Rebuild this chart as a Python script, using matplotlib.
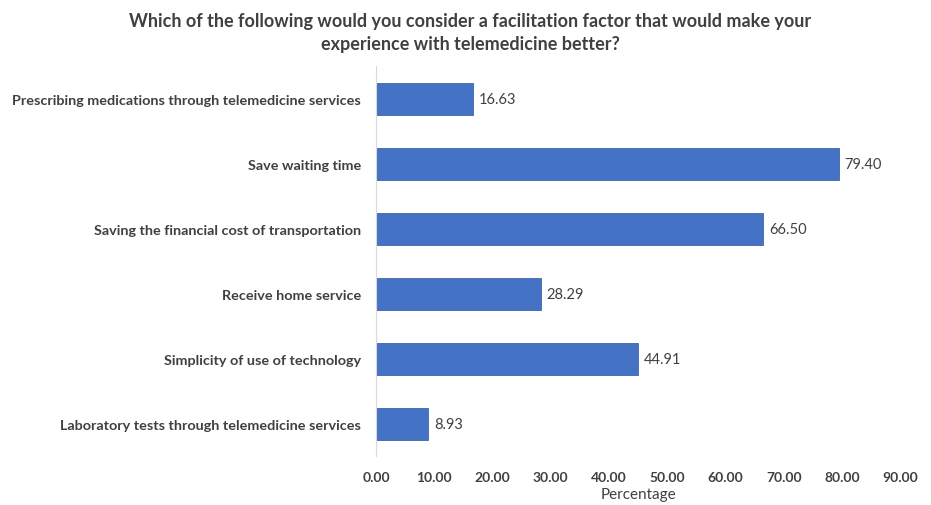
import matplotlib.pyplot as plt

categories = [
    "Prescribing medications through telemedicine services",
    "Save waiting time",
    "Saving the financial cost of transportation",
    "Receive home service",
    "Simplicity of use of technology",
    "Laboratory tests through telemedicine services",
]
values = [16.63, 79.40, 66.50, 28.29, 44.91, 8.93]
xticks = [0, 10, 20, 30, 40, 50, 60, 70, 80, 90]

plt.rcParams['font.family'] = ['Lato', 'DejaVu Sans']
text_col = '#404040'

fig = plt.figure(figsize=(9.31, 5.06), dpi=100)
ax = fig.add_axes([0.404, 0.096, 0.563, 0.771])

ypos = list(range(len(categories)))
ax.barh(ypos, values, height=0.5, color='#4472C4', edgecolor='#2F5597', linewidth=0.5)
for y, v in zip(ypos, values):
    ax.text(v + 1.0, y, f"{v:.2f}", va='center', ha='left', fontsize=10.5, color=text_col)

ax.set_ylim(len(categories) - 0.5, -0.5)
ax.set_xlim(0, 90)
ax.set_yticks(ypos)
ax.set_yticklabels(categories, fontsize=10.4, fontweight='bold', color=text_col)
ax.set_xticks(xticks)
ax.set_xticklabels([f"{t:.2f}" for t in xticks], fontsize=10, fontweight='bold', color=text_col)
ax.tick_params(axis='y', length=0, pad=11)
ax.tick_params(axis='x', length=0, pad=10.5)
ax.set_xlabel("Percentage", fontsize=11, color=text_col, labelpad=3)

for s in ['top', 'right', 'bottom']:
    ax.spines[s].set_visible(False)
ax.spines['left'].set_color('#D9D9D9')

fig.suptitle("Which of the following would you consider a facilitation factor that would make your\nexperience with telemedicine better?",
             x=0.505, y=0.975, fontsize=13, fontweight='bold', color=text_col, linespacing=1.45)

fig.savefig('out.png', dpi=100)
